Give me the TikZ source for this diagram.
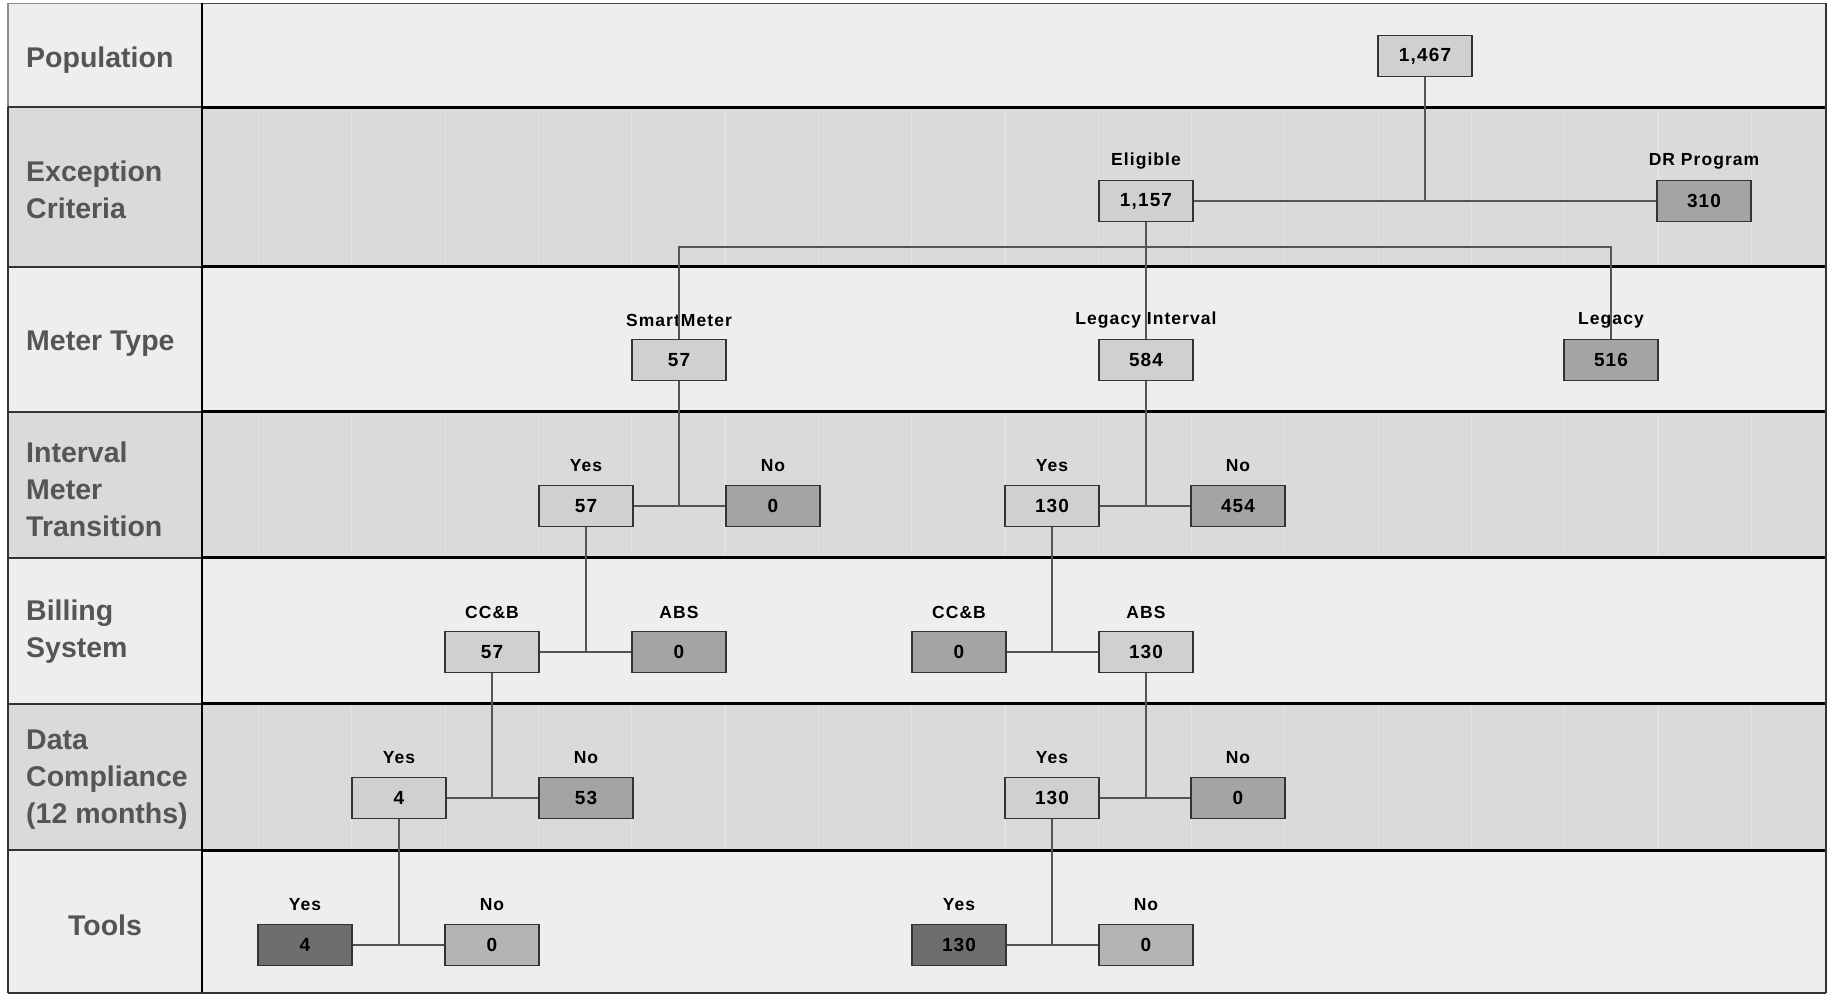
\documentclass[tikz,border=0pt]{standalone}
\usepackage{fontspec}
\setmainfont{Liberation Sans}
\usetikzlibrary{calc}
\definecolor{rowA}{HTML}{EEEEEE}
\definecolor{rowB}{HTML}{DADADA}
\definecolor{gridB}{HTML}{E2E2E2}
\definecolor{boxL}{HTML}{D0D0D0}
\definecolor{boxM}{HTML}{A4A4A4}
\definecolor{boxT}{HTML}{B4B4B4}
\definecolor{boxD}{HTML}{6E6E6E}
\definecolor{labgray}{HTML}{555555}
\definecolor{wire}{HTML}{555555}
\begin{document}
\begin{tikzpicture}[x=1pt,y=-1pt,
  box/.style={draw=black!80, line width=1.5pt, minimum width=94pt, minimum height=41pt, inner sep=0pt,
    font=\fontsize{19}{22}\selectfont\bfseries\addfontfeature{LetterSpace=6}},
  light/.style={box, fill=boxL},
  mid/.style={box, fill=boxM},
  midt/.style={box, fill=boxT},
  dark/.style={box, fill=boxD},
  lab/.style={font=\fontsize{17.5}{20}\selectfont\bfseries\addfontfeature{LetterSpace=6}, inner sep=0pt},
  rowlab/.style={font=\fontsize{28.5}{37}\selectfont\bfseries, text=labgray, align=left, inner sep=0pt},
  wirestyle/.style={draw=wire, line width=2pt}
]
\useasboundingbox (0,0) rectangle (1833,995);
\fill[white] (0,0) rectangle (1833,995);
% row backgrounds
\foreach \t/\b/\c in {3.5/107.5/rowA, 107.5/266.5/rowB, 266.5/411.5/rowA, 411.5/557.6/rowB, 557.6/703.7/rowA, 703.7/850/rowB, 850/993/rowA}
  {\fill[\c] (8,\t) rectangle (1826,\b);}
% faint grid in shaded rows
\foreach \t/\b in {107.5/266.5, 411.5/557.6, 703.7/850}
  {\foreach \k in {0,...,16} {\draw[gridB, line width=1.2pt] ({258.5+93.3*\k},\t) -- ({258.5+93.3*\k},\b);}}
% borders
\draw[black!45, line width=1.2pt] (8,3.5) rectangle (202,107.5);
\draw[black!70, line width=1.5pt] (202,3.5) -- (1826,3.5);
\foreach \y in {107.5,266.5,411.5,557.6,703.7,850}
  {\draw[black, line width=3pt] (202,\y) -- (1826,\y);
   \draw[black!80, line width=2pt] (8,\y) -- (202,\y);}
\draw[black, line width=2.5pt] (202,3.5) -- (202,993);
\draw[black!80, line width=1.5pt] (8,107.5) -- (8,993);
\draw[black!80, line width=1.5pt] (1826,3.5) -- (1826,993);
\draw[black!80, line width=2pt] (8,993) -- (1826,993);
% row labels
\node[rowlab, anchor=west] (lpop) at (26,60) {Population};
\node[rowlab, anchor=west] (lexc) at (26,190) {Exception\\Criteria};
\node[rowlab, anchor=west] (lmet) at (26,344) {Meter Type};
\node[rowlab, anchor=west] (lint) at (26,489) {Interval\\Meter\\Transition};
\node[rowlab, anchor=west] (lbil) at (26,632) {Billing\\System};
\node[rowlab, anchor=west] (ldat) at (26,780) {Data\\Compliance\\(12 months)};
\node[rowlab] (ltoo) at (105,925) {Tools};
% boxes
\node[light] (p) at (1425,56) {1,467};
\node[light] (elig) at (1146,201) {1,157};
\node[mid] (dr) at (1704,201) {310};
\node[light] (sm) at (679,360) {57};
\node[light] (li) at (1146,360) {584};
\node[mid] (leg) at (1611,360) {516};
\node[light] (iy1) at (586,506) {57};
\node[mid] (in1) at (773,506) {0};
\node[light] (iy2) at (1052,506) {130};
\node[mid] (in2) at (1238,506) {454};
\node[light] (bc1) at (492,652) {57};
\node[mid] (ba1) at (679,652) {0};
\node[mid] (bc2) at (959,652) {0};
\node[light] (ba2) at (1146,652) {130};
\node[light] (dy1) at (399,798) {4};
\node[mid] (dn1) at (586,798) {53};
\node[light] (dy2) at (1052,798) {130};
\node[mid] (dn2) at (1238,798) {0};
\node[dark] (ty1) at (305,945) {4};
\node[midt] (tn1) at (492,945) {0};
\node[dark] (ty2) at (959,945) {130};
\node[midt] (tn2) at (1146,945) {0};
% box labels
\foreach \n/\t in {elig/Eligible, dr/DR Program, sm/SmartMeter, li/Legacy Interval, leg/Legacy,
  iy1/Yes, in1/No, iy2/Yes, in2/No, bc1/CC\&B, ba1/ABS, bc2/CC\&B, ba2/ABS,
  dy1/Yes, dn1/No, dy2/Yes, dn2/No, ty1/Yes, tn1/No, ty2/Yes, tn2/No}
  {\node[lab] (\n-l) at ($(\n.center)+(0,-40)$) {\t};}
% connectors
\draw[wirestyle] (elig) -- (dr);
\draw[wirestyle] (p) -- (p |- dr);
\draw[wirestyle] (elig) -- (li);
\coordinate (bar) at (0,247);
\draw[wirestyle] (sm.north) -- (sm.north |- bar) -- (leg.north |- bar) -- (leg.north);
\draw[wirestyle] (iy1) -- (in1);
\draw[wirestyle] (sm) -- (sm |- in1);
\draw[wirestyle] (iy2) -- (in2);
\draw[wirestyle] (li) -- (li |- in2);
\draw[wirestyle] (bc1) -- (ba1);
\draw[wirestyle] (iy1) -- (iy1 |- ba1);
\draw[wirestyle] (bc2) -- (ba2);
\draw[wirestyle] (iy2) -- (iy2 |- ba2);
\draw[wirestyle] (dy1) -- (dn1);
\draw[wirestyle] (bc1) -- (bc1 |- dn1);
\draw[wirestyle] (dy2) -- (dn2);
\draw[wirestyle] (ba2) -- (ba2 |- dn2);
\draw[wirestyle] (ty1) -- (tn1);
\draw[wirestyle] (dy1) -- (dy1 |- tn1);
\draw[wirestyle] (ty2) -- (tn2);
\draw[wirestyle] (dy2) -- (dy2 |- tn2);
\end{tikzpicture}
\end{document}
